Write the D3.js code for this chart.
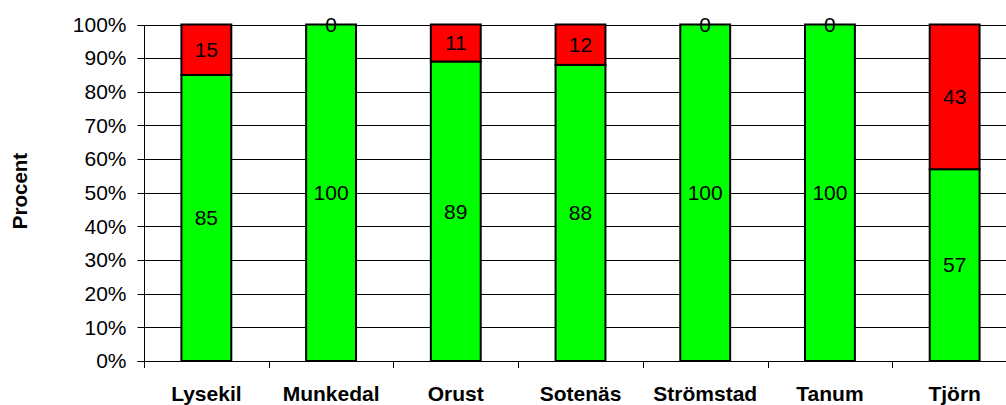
<!DOCTYPE html>
<html>
<head>
  <meta charset="utf-8">
  <script src="https://d3js.org/d3.v7.min.js"></script>
  <style>
    body { margin: 0; background: #fff; }
    text { font-family: "Liberation Sans", Arial, sans-serif; }
  </style>
</head>
<body>
  <script>
    // Data
    const categories = ["Lysekil", "Munkedal", "Orust", "Sotenäs", "Strömstad", "Tanum", "Tjörn"];
    const greenValues = [85, 100, 89, 88, 100, 100, 57];
    const redValues = [15, 0, 11, 12, 0, 0, 43];
    const yTicks = [0, 10, 20, 30, 40, 50, 60, 70, 80, 90, 100];

    const W = 1006, H = 405;
    const plot = {left: 144, right: 1017, top: 24.5, bottom: 361};

    const svg = d3.select("body")
      .append("svg")
        .attr("width", W)
        .attr("height", H);

    const x = d3.scaleBand()
      .domain(categories)
      .range([plot.left, plot.right])
      .paddingInner(0.6)
      .paddingOuter(0.3);

    const y = d3.scaleLinear()
      .domain([0, 100])
      .range([plot.bottom, plot.top]);

    // Gridlines
    svg.append("g")
      .selectAll("line")
      .data(yTicks.filter(d => d > 0))
      .join("line")
        .attr("x1", plot.left)
        .attr("x2", W)
        .attr("y1", d => Math.round(y(d)) + 0.5)
        .attr("y2", d => Math.round(y(d)) + 0.5)
        .attr("stroke", "#000")
        .attr("stroke-width", 1);

    // Y axis
    const yAxis = svg.append("g")
      .attr("transform", `translate(${plot.left + 0.5},0.5)`)
      .call(d3.axisLeft(y).tickValues(yTicks).tickFormat(d => d + "%").tickSize(7).tickPadding(11).offset(0));
    yAxis.select(".domain").attr("stroke", "#000").attr("d", `M-7,${Math.round(plot.top)}H0V${plot.bottom}H-7`);
    yAxis.selectAll(".tick line").attr("stroke", "#000").attr("transform", d => `translate(0,${Math.round(y(d)) - y(d)})`);
    yAxis.selectAll(".tick text")
      .attr("font-size", 21)
      .attr("font-family", "Liberation Sans, Arial, sans-serif")
      .attr("fill", "#000");

    // X axis baseline and boundary ticks
    const boundaries = d3.range(categories.length + 1).map(i => plot.left + i * (plot.right - plot.left) / categories.length);
    svg.append("line")
      .attr("x1", plot.left).attr("x2", W)
      .attr("y1", Math.round(plot.bottom) + 0.5).attr("y2", Math.round(plot.bottom) + 0.5)
      .attr("stroke", "#000");
    svg.append("g")
      .selectAll("line")
      .data(boundaries)
      .join("line")
        .attr("x1", d => Math.round(d) + 0.5)
        .attr("x2", d => Math.round(d) + 0.5)
        .attr("y1", plot.bottom)
        .attr("y2", plot.bottom + 7)
        .attr("stroke", "#000");

    // Category labels
    svg.append("g")
      .selectAll("text")
      .data(categories)
      .join("text")
        .attr("x", d => x(d) + x.bandwidth() / 2)
        .attr("y", 401)
        .attr("text-anchor", "middle")
        .attr("font-weight", "bold")
        .attr("font-size", 21)
        .text(d => d);

    // Stacked bars
    const bars = svg.append("g");
    categories.forEach((c, i) => {
      const g1 = greenValues[i], r1 = greenValues[i] + redValues[i];
      bars.append("rect")
        .attr("x", x(c))
        .attr("y", y(g1))
        .attr("width", x.bandwidth())
        .attr("height", y(0) - y(g1))
        .attr("fill", "#00ff00")
        .attr("stroke", "#000")
        .attr("stroke-width", 2);
      if (redValues[i] > 0) {
        bars.append("rect")
          .attr("x", x(c))
          .attr("y", y(r1))
          .attr("width", x.bandwidth())
          .attr("height", y(g1) - y(r1))
          .attr("fill", "#ff0000")
          .attr("stroke", "#000")
          .attr("stroke-width", 2);
      }
    });

    // Value labels
    const labels = svg.append("g");
    categories.forEach((c, i) => {
      const g1 = greenValues[i], r1 = greenValues[i] + redValues[i];
      labels.append("text")
        .attr("x", x(c) + x.bandwidth() / 2)
        .attr("y", y(g1 / 2))
        .attr("dy", "0.35em")
        .attr("text-anchor", "middle")
        .attr("font-size", 21)
        .text(greenValues[i]);
      labels.append("text")
        .attr("x", x(c) + x.bandwidth() / 2)
        .attr("y", y((g1 + r1) / 2))
        .attr("dy", "0.35em")
        .attr("text-anchor", "middle")
        .attr("font-size", 21)
        .text(redValues[i]);
    });

    // Y axis title
    svg.append("text")
      .attr("transform", "translate(27,191) rotate(-90)")
      .attr("text-anchor", "middle")
      .attr("font-weight", "bold")
      .attr("font-size", 20.5)
      .text("Procent");
  </script>
</body>
</html>
